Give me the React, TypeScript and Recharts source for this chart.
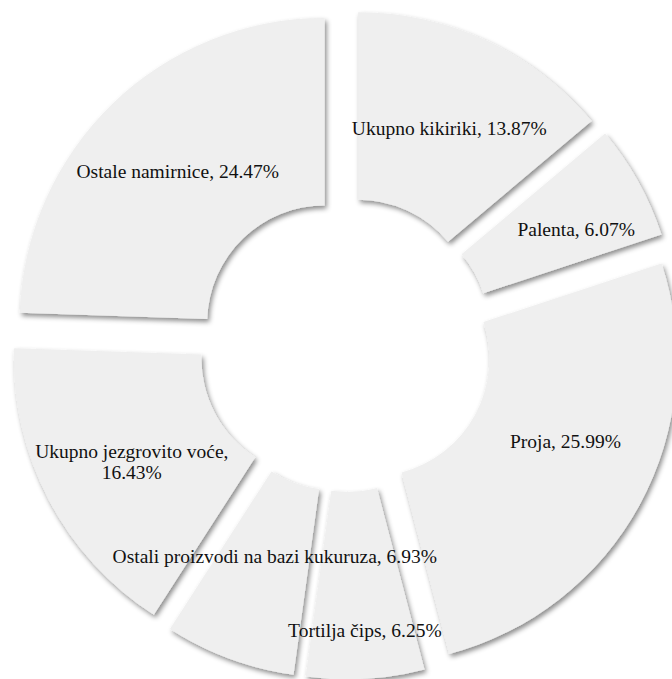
import React from 'react';
import { PieChart, Pie, Sector } from 'recharts';

// Shares of the food groups, clockwise from 12 o'clock
const categories = [
  'Ukupno kikiriki',
  'Palenta',
  'Proja',
  'Tortilja čips',
  'Ostali proizvodi na bazi kukuruza',
  'Ukupno jezgrovito voće',
  'Ostale namirnice',
];
const shares = [13.87, 6.07, 25.99, 6.25, 6.93, 16.43, 24.47];

const data = categories.map((name, i) => ({ name, value: shares[i] }));

const W = 672;
const H = 679;
const CX = 345.5;
const CY = 344.5;
const INNER = 117.5;
const OUTER = 305;
const EXPLODE = 30;
const RAD = Math.PI / 180;
const FONT = '"Liberation Serif", "Times New Roman", serif';

// Excel shifted a few labels off the slice centre to keep them apart
const labelNudge: Record<string, [number, number]> = {
  'Ukupno kikiriki': [2, 3],
  Palenta: [20, 3],
  Proja: [8, -18],
  'Tortilja čips': [5, 45],
  'Ostali proizvodi na bazi kukuruza': [13, -14],
  'Ukupno jezgrovito voće': [0, 5],
};
const wrapped = new Set(['Ukupno jezgrovito voće']);

const explodeOffset = (midAngle: number) => [
  EXPLODE * Math.cos(-midAngle * RAD),
  EXPLODE * Math.sin(-midAngle * RAD),
];

// eslint-disable-next-line @typescript-eslint/no-explicit-any
const renderSlice = (props: any) => {
  const { cx, cy, midAngle, innerRadius, outerRadius, startAngle, endAngle, index } = props;
  const [ox, oy] = explodeOffset(midAngle);
  return (
    <Sector
      key={`slice-${index}`}
      cx={cx + ox}
      cy={cy + oy}
      innerRadius={innerRadius}
      outerRadius={outerRadius}
      startAngle={startAngle}
      endAngle={endAngle}
      fill="#efefef"
      stroke="none"
      filter="url(#sliceShadow)"
    />
  );
};

// eslint-disable-next-line @typescript-eslint/no-explicit-any
const renderText = (props: any) => {
  const { cx, cy, midAngle, innerRadius, outerRadius, index, name, value } = props;
  const r = (innerRadius + outerRadius) / 2 + EXPLODE;
  const [nx, ny] = labelNudge[name] ?? [0, 0];
  const x = cx + r * Math.cos(-midAngle * RAD) + nx;
  const y = cy + r * Math.sin(-midAngle * RAD) + ny;
  const pct = `${Number(value).toFixed(2)}%`;
  const common = {
    textAnchor: 'middle' as const,
    dominantBaseline: 'central' as const,
    fontFamily: FONT,
    fontSize: 19.5,
    fill: '#111',
  };
  if (wrapped.has(name)) {
    return (
      <text key={`label-${index}`} x={x} y={y} {...common}>
        <tspan x={x} y={y - 10.5}>{`${name},`}</tspan>
        <tspan x={x} y={y + 10.5}>{pct}</tspan>
      </text>
    );
  }
  return (
    <text key={`label-${index}`} x={x} y={y} {...common}>
      {`${name}, ${pct}`}
    </text>
  );
};

export default function App() {
  return (
    <div style={{ position: 'absolute', left: 0, top: 0, width: W, height: H, background: '#fff' }}>
      <svg width={0} height={0} style={{ position: 'absolute' }}>
        <defs>
          <filter id="sliceShadow" x="-10%" y="-10%" width="120%" height="120%">
            <feDropShadow dx={2} dy={3} stdDeviation={2.5} floodColor="#000" floodOpacity={0.45} />
          </filter>
        </defs>
      </svg>
      <PieChart width={W} height={H} margin={{ top: 0, right: 0, bottom: 0, left: 0 }}>
        <Pie
          data={data}
          dataKey="value"
          nameKey="name"
          cx={CX}
          cy={CY}
          innerRadius={INNER}
          outerRadius={OUTER}
          startAngle={90}
          endAngle={-270}
          fill="transparent"
          stroke="none"
          label={renderSlice}
          labelLine={false}
          isAnimationActive={false}
        />
        <Pie
          data={data}
          dataKey="value"
          nameKey="name"
          cx={CX}
          cy={CY}
          innerRadius={INNER}
          outerRadius={OUTER}
          startAngle={90}
          endAngle={-270}
          fill="transparent"
          stroke="none"
          label={renderText}
          labelLine={false}
          isAnimationActive={false}
        />
      </PieChart>
    </div>
  );
}
